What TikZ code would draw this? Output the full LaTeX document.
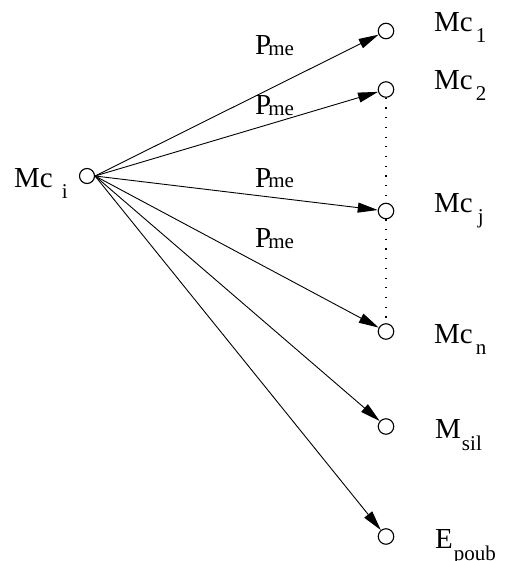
\documentclass[tikz,border=0pt]{standalone}
\usepackage{fontspec}
\setmainfont{Liberation Serif}
\usetikzlibrary{arrows.meta}
\newcommand{\bigsz}{\fontsize{29}{31}\selectfont}
\newcommand{\subsz}{\fontsize{21}{23}\selectfont}
\begin{document}
\begin{tikzpicture}[x=1pt,y=-1pt,
  state/.style={circle,draw,line width=1.1pt,minimum size=15.5pt,inner sep=0pt},
  lbl/.style={inner sep=0pt,anchor=base west,font=\bigsz},
  arr/.style={line width=0.9pt,-{Triangle[length=20pt,width=10pt]}},
  dotline/.style={line width=1.1pt,dash pattern=on 1.2pt off 8.5pt}]
\useasboundingbox (0,0) rectangle (514,561);
% states
\node[state,minimum size=15pt] (mci) at (87,176) {};
\node[state] (mc1) at (386,31) {};
\node[state] (mc2) at (386,89.5) {};
\node[state] (mcj) at (386,211) {};
\node[state] (mcn) at (386,331.5) {};
\node[state] (msil) at (386,426.5) {};
\node[state] (epoub) at (386,536.5) {};
% labels
\node[lbl] (tmci) at (14,187) {Mc\hspace{9pt}\raisebox{-11pt}{\subsz i}};
\node[lbl] (tmc1) at (434,32) {Mc\hspace{3pt}\raisebox{-11pt}{\subsz 1}};
\node[lbl] (tmc2) at (434,90) {Mc\hspace{3pt}\raisebox{-11pt}{\subsz 2}};
\node[lbl] (tmcj) at (434,212) {Mc\hspace{5pt}\raisebox{-11pt}{\subsz j}};
\node[lbl] (tmcn) at (434,343) {Mc\hspace{3pt}\raisebox{-11pt}{\subsz n}};
\node[lbl] (tmsil) at (435,438) {M\hspace{1pt}\raisebox{-12pt}{\subsz sil}};
\node[lbl] (tepoub) at (435,548) {E\hspace{1pt}\raisebox{-12pt}{\subsz poub}};
% P_me labels
\node[lbl] (p1) at (255,55) {P\hspace{-3pt}\raisebox{-1pt}{\subsz me}};
\node[lbl] (p2) at (255,115) {P\hspace{-3pt}\raisebox{-1pt}{\subsz me}};
\node[lbl] (p3) at (255,187) {P\hspace{-3pt}\raisebox{-1pt}{\subsz me}};
\node[lbl] (p4) at (255,247) {P\hspace{-3pt}\raisebox{-1pt}{\subsz me}};
% arrows
\draw[arr] (mci.east) -- (mc1);
\draw[arr] (mci.east) -- (mc2);
\draw[arr] (mci.east) -- (mcj);
\draw[arr] (mci.east) -- (mcn);
\draw[arr] (mci.east) -- (msil);
\draw[arr] (mci.east) -- (epoub);
% dotted
\draw[dotline] (mc2) -- (mcj);
\draw[dotline] (mcj) -- (mcn);
\end{tikzpicture}
\end{document}
